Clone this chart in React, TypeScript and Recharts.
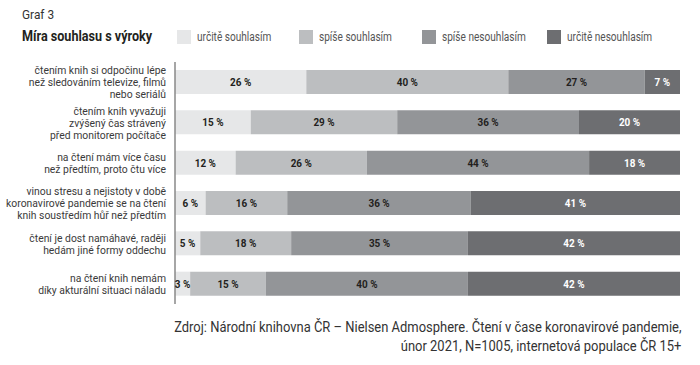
import { BarChart, Bar, XAxis, YAxis, LabelList } from 'recharts';

const statements = [
  'čtením knih si odpočinu lépe\nnež sledováním televize, filmů\nnebo seriálů',
  'čtením knih vyvažuji\nzvýšený čas strávený\npřed monitorem počítače',
  'na čtení mám více času\nnež předtím, proto čtu více',
  'vinou stresu a nejistoty v době\nkoronavirové pandemie se na čtení\nknih soustředím hůř než předtím',
  'čtení je dost namáhavé, raději\nhedám jiné formy oddechu',
  'na čtení knih nemám\ndíky akturální situaci náladu',
];

const urciteSouhlasim = [26, 15, 12, 6, 5, 3];
const spiseSouhlasim = [40, 29, 26, 16, 18, 15];
const spiseNesouhlasim = [27, 36, 44, 36, 35, 40];
const urciteNesouhlasim = [7, 20, 18, 41, 42, 42];

const seriesNames = ['určitě souhlasím', 'spíše souhlasím', 'spíše nesouhlasím', 'určitě nesouhlasím'];
const seriesColors = ['#e6e7e8', '#bcbec0', '#939598', '#6d6e71'];
const labelColors = ['#231f20', '#231f20', '#231f20', '#ffffff'];
const legendX = [177, 299, 422, 547];

const FONT = 'Roboto, "DejaVu Sans Condensed", sans-serif';
const SQUEEZE = 0.88;

const data = statements.map((s, i) => ({
  vyrok: s,
  a: urciteSouhlasim[i],
  b: spiseSouhlasim[i],
  c: spiseNesouhlasim[i],
  d: urciteNesouhlasim[i],
}));

const keys = ['a', 'b', 'c', 'd'];

function StatementTick({ x, y, payload }: any) {
  const lines = String(payload.value).split('\n');
  const lh = 12;
  const start = -((lines.length - 1) * lh) / 2;
  return (
    <g transform={`translate(${x - 7},${y}) scale(${SQUEEZE},1)`}>
      <text textAnchor="end" fontSize={11.8} fill="#3a3a3a" fontFamily={FONT}>
        {lines.map((l, i) => (
          <tspan key={i} x={0} y={start + i * lh} dy="0.35em">
            {l}
          </tspan>
        ))}
      </text>
    </g>
  );
}

const makeLabel = (color: string) => (props: any) => {
  const { x, y, width, height, value } = props;
  const cx = Number(x) + Number(width) / 2;
  const cy = Number(y) + Number(height) / 2;
  return (
    <g transform={`translate(${cx},${cy}) scale(${SQUEEZE},1)`}>
      <text textAnchor="middle" dy="0.35em" fontSize={11.3} fontWeight={700} fill={color} fontFamily={FONT}>
        {`${value} %`}
      </text>
    </g>
  );
};

export default function App() {
  return (
    <div style={{ position: 'absolute', left: 0, top: 0, width: 700, height: 365, background: '#fff', fontFamily: FONT }}>
      <div
        style={{
          position: 'absolute',
          left: 22,
          top: 6,
          fontSize: 13.5,
          color: '#333',
          transform: `scaleX(${SQUEEZE})`,
          transformOrigin: 'left',
          whiteSpace: 'nowrap',
        }}
      >
        Graf 3
      </div>
      <div
        style={{
          position: 'absolute',
          left: 22,
          top: 28,
          fontSize: 14,
          fontWeight: 700,
          color: '#231f20',
          transform: 'scaleX(0.9)',
          transformOrigin: 'left',
          whiteSpace: 'nowrap',
        }}
      >
        Míra souhlasu s výroky
      </div>
      {seriesNames.map((n, i) => (
        <div key={n} style={{ position: 'absolute', left: legendX[i], top: 30, height: 14, display: 'flex', alignItems: 'center' }}>
          <span style={{ width: 14, height: 14, background: seriesColors[i], display: 'inline-block', flex: 'none' }} />
          <span
            style={{
              marginLeft: 6,
              fontSize: 12,
              color: '#555',
              display: 'inline-block',
              transform: 'scaleX(0.84)',
              transformOrigin: 'left',
              whiteSpace: 'nowrap',
            }}
          >
            {n}
          </span>
        </div>
      ))}
      <div style={{ position: 'absolute', left: 0, top: 0 }}>
        <BarChart
          width={700}
          height={365}
          data={data}
          layout="vertical"
          stackOffset="expand"
          barCategoryGap={8}
          margin={{ top: 62, right: 20, bottom: 61, left: 0 }}
        >
          <XAxis type="number" hide domain={[0, 1]} />
          <YAxis
            type="category"
            dataKey="vyrok"
            width={175}
            tickLine={false}
            tickSize={0}
            axisLine={{ stroke: '#888', strokeWidth: 1.5 }}
            tick={<StatementTick />}
            interval={0}
          />
          {keys.map((k, i) => (
            <Bar key={k} dataKey={k} name={seriesNames[i]} stackId="s" fill={seriesColors[i]} isAnimationActive={false}>
              <LabelList dataKey={k} content={makeLabel(labelColors[i])} />
            </Bar>
          ))}
        </BarChart>
      </div>
      <div
        style={{
          position: 'absolute',
          right: 19,
          top: 318,
          textAlign: 'right',
          fontSize: 14,
          lineHeight: '19px',
          color: '#333',
          transform: 'scaleX(0.925)',
          transformOrigin: 'right',
          whiteSpace: 'nowrap',
        }}
      >
        Zdroj: Národní knihovna ČR – Nielsen Admosphere. Čtení v čase koronavirové pandemie,
        <br />
        únor 2021, N=1005, internetová populace ČR 15+
      </div>
    </div>
  );
}
